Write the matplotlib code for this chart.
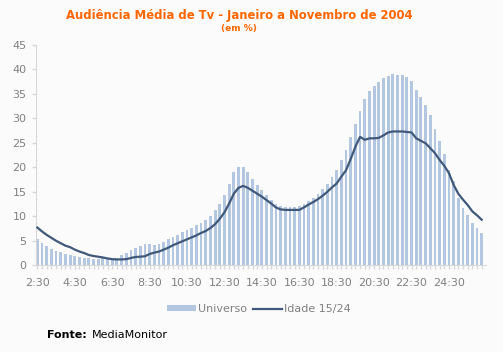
import matplotlib.pyplot as plt
import numpy as np

# quarter-hour slots from 2:30 to 26:15
universo = [
    5.4, 4.6, 3.9, 3.3, 2.9, 2.7, 2.3, 2.1, 1.9, 1.7, 1.5, 1.4, 1.3, 1.3, 1.4, 1.3,
    1.3, 1.4, 2.1, 2.5, 3.1, 3.5, 3.9, 4.3, 4.3, 4.1, 4.3, 4.7, 5.4, 5.8, 6.2, 6.8,
    7.2, 7.6, 8.2, 8.6, 9.2, 10.1, 11.3, 12.5, 14.4, 16.6, 19.0, 20.0, 20.0, 19.0, 17.6, 16.4,
    15.4, 14.4, 13.3, 12.5, 12.1, 11.9, 11.9, 11.9, 12.1, 12.5, 13.1, 13.7, 14.6, 15.6, 16.6, 18.0,
    19.5, 21.5, 23.5, 26.2, 28.8, 31.5, 33.9, 35.6, 36.6, 37.4, 38.2, 38.6, 39.0, 38.8, 38.8, 38.4,
    37.6, 35.8, 34.3, 32.7, 30.7, 27.8, 25.4, 22.7, 19.5, 17.2, 13.7, 11.7, 10.3, 8.6, 7.6, 6.6,
]
idade_15_24 = [
    7.7, 6.9, 6.2, 5.6, 5.0, 4.5, 4.0, 3.7, 3.2, 2.8, 2.5, 2.1, 1.9, 1.75, 1.6, 1.4,
    1.25, 1.2, 1.2, 1.25, 1.5, 1.7, 1.75, 1.85, 2.3, 2.6, 2.8, 3.2, 3.6, 4.1, 4.5, 4.9,
    5.3, 5.7, 6.1, 6.6, 7.0, 7.6, 8.4, 9.5, 10.8, 12.6, 14.6, 15.8, 16.2, 15.8, 15.2, 14.6,
    14.0, 13.3, 12.6, 11.8, 11.4, 11.3, 11.3, 11.3, 11.3, 11.8, 12.4, 12.9, 13.5, 14.2, 15.0, 15.9,
    16.7, 18.1, 19.4, 21.7, 24.2, 26.2, 25.6, 25.9, 25.9, 26.0, 26.5, 27.1, 27.3, 27.3, 27.3, 27.2,
    27.1, 25.9, 25.4, 24.9, 23.9, 22.9, 21.5, 20.3, 18.8, 16.4, 14.6, 13.4, 12.3, 11.0, 10.2, 9.3,
]
hour_labels = ["2:30", "4:30", "6:30", "8:30", "10:30", "12:30",
               "14:30", "16:30", "18:30", "20:30", "22:30", "24:30"]

bg = "#fbfbfb"
grey = "#808080"
axis_grey = "#d8d8d8"
orange = "#ff6600"

fig = plt.figure(figsize=(5.03, 3.52), dpi=100, facecolor=bg)
ax = fig.add_axes([0.0706, 0.2463, 0.8954, 0.6267], facecolor=bg)

x = np.arange(len(universo))
bars = ax.bar(x, universo, width=0.6, color="#b4c7e0", label="Universo", zorder=2)
line, = ax.plot(x, idade_15_24, color="#40597a", lw=1.6, label="Idade 15/24", zorder=3)

ax.set_xlim(-0.4, 95.9)
ax.set_ylim(0, 45)
ax.set_yticks(range(0, 46, 5))
ax.set_xticks(x[::8])
ax.set_xticklabels(hour_labels)
ax.set_xticks(x, minor=True)

for side in ("top", "right"):
    ax.spines[side].set_visible(False)
for side in ("left", "bottom"):
    ax.spines[side].set_color(axis_grey)
ax.tick_params(axis="both", which="both", colors=axis_grey, labelcolor=grey,
               labelsize=8, length=3, width=1)
ax.tick_params(axis="x", which="major", pad=6)

fig.text(0.476, 0.957, "Audiência Média de Tv - Janeiro a Novembro de 2004",
         ha="center", va="center", color=orange, fontsize=8.4, fontweight="bold")
fig.text(0.476, 0.92, "(em %)", ha="center", va="center", color=orange,
         fontsize=6.5, fontweight="bold")

fig.legend(handles=[bars, line], loc="center", bbox_to_anchor=(0.515, 0.122), ncol=2,
           frameon=False, fontsize=8, handlelength=2.6, handleheight=0.5,
           handletextpad=0.2, columnspacing=0.5, labelcolor=grey)

fig.text(0.094, 0.048, "Fonte:", ha="left", va="center", fontsize=8, fontweight="bold")
fig.text(0.183, 0.048, "MediaMonitor", ha="left", va="center", fontsize=8)

plt.savefig("out.png", dpi=100, facecolor=bg)
plt.close()
